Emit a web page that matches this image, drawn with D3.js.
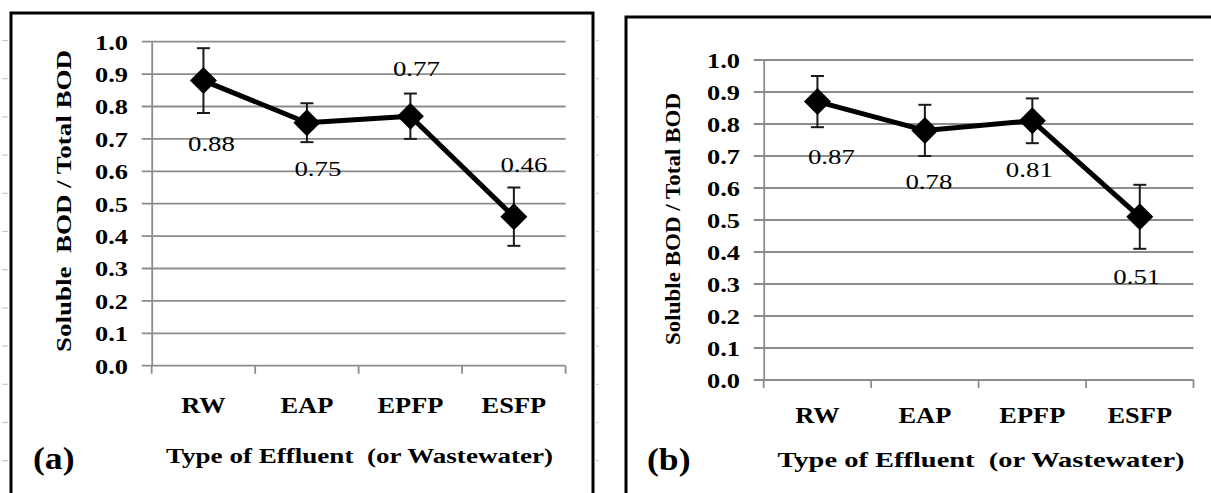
<!DOCTYPE html>
<html>
<head>
<meta charset="utf-8">
<script src="https://cdn.jsdelivr.net/npm/d3@7"></script>
<style>
  html, body { margin: 0; padding: 0; background: #fff; }
  svg { display: block; }
  text { font-family: "Times New Roman", Times, "Liberation Serif", Tinos, serif; fill: #000; white-space: pre; }
</style>
</head>
<body>
<div id="chart"></div>
<script>
// data
const categories = ['RW', 'EAP', 'EPFP', 'ESFP'];
const ratioA = [0.88, 0.75, 0.77, 0.46];
const errA = [0.10, 0.06, 0.07, 0.09];
const ratioB = [0.87, 0.78, 0.81, 0.51];
const errB = [0.08, 0.08, 0.07, 0.10];
const yTicks = [0.0, 0.1, 0.2, 0.3, 0.4, 0.5, 0.6, 0.7, 0.8, 0.9, 1.0];

const W = 1211, H = 493;
const FONT = '"Times New Roman", Times, "Liberation Serif", Tinos, serif';

// layout of the two panels (pixels)
const panels = [
    {
        tag: '(a)', tagX: 33, tagY: 469,
        values: ratioA, errors: errA,
        left: 151.7, right: 565.6, bottom: 365.7, top: 41.7,
        box: { x: 11, y: 13, w: 582 },
        yTitle: 'Soluble  BOD / Total BOD', yTitleX: 71, yTitleY: 201, yTitleLen: 302,
        xLabelY: 413,
        xTitle: 'Type of Effluent  (or Wastewater)', xTitleX: 359.5, xTitleY: 463, xTitleLen: 387,
        labelOffsets: [[8, 70], [11, 53], [6, -40], [10, -45]]
    },
    {
        tag: '(b)', tagX: 647, tagY: 470,
        values: ratioB, errors: errB,
        left: 763.7, right: 1193.5, bottom: 380, top: 60,
        box: { x: 626, y: 17, w: 620 },
        yTitle: 'Soluble BOD / Total BOD', yTitleX: 680, yTitleY: 219, yTitleLen: 252,
        xLabelY: 423,
        xTitle: 'Type of Effluent  (or Wastewater)', xTitleX: 981, xTitleY: 466.7, xTitleLen: 407,
        labelOffsets: [[14, 62], [4, 59], [-3, 56], [-3, 67]]
    }
];

const svg = d3.select('#chart').append('svg')
    .attr('width', W)
    .attr('height', H);

svg.append('rect').attr('width', W).attr('height', H).attr('fill', '#fff');

// faint scan marks along the page edges
const marks = d3.range(12).map(i => 40.5 + i * 38.2);
svg.append('g').selectAll('line').data(marks).enter().append('line')
    .attr('x1', 2).attr('x2', 8).attr('y1', d => d).attr('y2', d => d)
    .attr('stroke', '#c8c8c8').attr('stroke-width', 1.2);
svg.append('g').selectAll('line').data(marks).enter().append('line')
    .attr('x1', 596).attr('x2', 599).attr('y1', d => d).attr('y2', d => d)
    .attr('stroke', '#d0d0d0').attr('stroke-width', 1.2);

function label(g, str, x, y, o) {
    const t = g.append('text')
        .attr('transform', `translate(${x},${y}) rotate(${o.rot || 0}) scale(${o.sx || 1},1)`)
        .attr('text-anchor', o.anchor || 'middle')
        .attr('font-family', FONT)
        .attr('font-size', o.size)
        .attr('font-weight', o.weight || 'bold')
        .text(str);
    if (o.len) t.attr('textLength', o.len).attr('lengthAdjust', 'spacingAndGlyphs');
    return t;
}

panels.forEach(p => {
    const g = svg.append('g');

    g.append('rect')
        .attr('x', p.box.x).attr('y', p.box.y)
        .attr('width', p.box.w).attr('height', 600)
        .attr('fill', 'none').attr('stroke', '#000').attr('stroke-width', 3);

    const x = d3.scaleBand().domain(categories).range([p.left, p.right]).padding(0);
    const y = d3.scaleLinear().domain([0, 1]).range([p.bottom, p.top]);

    // gridlines (reach a little left of the axis, like tick marks)
    g.append('g').selectAll('line').data(yTicks).enter().append('line')
        .attr('x1', p.left - 10).attr('x2', p.right)
        .attr('y1', d => y(d)).attr('y2', d => y(d))
        .attr('stroke', '#8c8c8c').attr('stroke-width', 1.8);

    // y axis
    const yAxis = g.append('g')
        .attr('transform', `translate(${p.left},0)`)
        .call(d3.axisLeft(y).tickValues(yTicks).tickFormat(d3.format('.1f')).tickSize(0));
    yAxis.attr('font-family', FONT);
    yAxis.select('.domain').attr('stroke', '#8c8c8c').attr('stroke-width', 1.8);
    yAxis.selectAll('text')
        .attr('x', 0).attr('dy', '0.34em')
        .attr('transform', 'translate(-23.7,0) scale(1.2,1)')
        .attr('font-family', FONT)
        .attr('font-size', 22).attr('font-weight', 'bold').attr('fill', '#000');

    // x axis: band-edge ticks below the zero line
    const edges = categories.map(c => x(c)).concat([p.right]);
    g.append('g').selectAll('line').data(edges).enter().append('line')
        .attr('x1', d => d).attr('x2', d => d)
        .attr('y1', p.bottom).attr('y2', p.bottom + 8)
        .attr('stroke', '#8c8c8c').attr('stroke-width', 1.8);

    categories.forEach(c => {
        label(g, c, x(c) + x.bandwidth() / 2, p.xLabelY, { size: 24, sx: 1.1 });
    });

    // error bars
    const cx = (d, i) => x(categories[i]) + x.bandwidth() / 2;
    const eb = g.append('g').attr('stroke', '#1a1a1a').attr('stroke-width', 2);
    p.values.forEach((v, i) => {
        const xi = cx(v, i);
        const lo = y(v - p.errors[i]), hi = y(v + p.errors[i]);
        eb.append('line').attr('x1', xi).attr('x2', xi).attr('y1', lo).attr('y2', hi);
        eb.append('line').attr('x1', xi - 6.5).attr('x2', xi + 6.5).attr('y1', lo).attr('y2', lo);
        eb.append('line').attr('x1', xi - 6.5).attr('x2', xi + 6.5).attr('y1', hi).attr('y2', hi);
    });

    // connecting line
    const line = d3.line().x((d, i) => cx(d, i)).y(d => y(d));
    g.append('path').datum(p.values)
        .attr('d', line)
        .attr('fill', 'none').attr('stroke', '#000')
        .attr('stroke-width', 5).attr('stroke-linejoin', 'round');

    // diamond markers
    const diamond = d3.symbol().type(d3.symbolSquare).size(364);
    g.append('g').selectAll('path').data(p.values).enter().append('path')
        .attr('d', diamond)
        .attr('transform', (d, i) => `translate(${cx(d, i)},${y(d)}) rotate(45)`)
        .attr('fill', '#000');

    // value labels
    p.values.forEach((v, i) => {
        const off = p.labelOffsets[i];
        label(g, v.toFixed(2), cx(v, i) + off[0], y(v) + off[1],
            { size: 22, sx: 1.22, weight: 'normal' });
    });

    // axis titles and panel tag
    label(g, p.yTitle, p.yTitleX, p.yTitleY, { size: 20, rot: -90, len: p.yTitleLen });
    label(g, p.xTitle, p.xTitleX, p.xTitleY, { size: 22, len: p.xTitleLen });
    label(g, p.tag, p.tagX, p.tagY, { size: 31, sx: 1.15, anchor: 'start' });
});
</script>
</body>
</html>
